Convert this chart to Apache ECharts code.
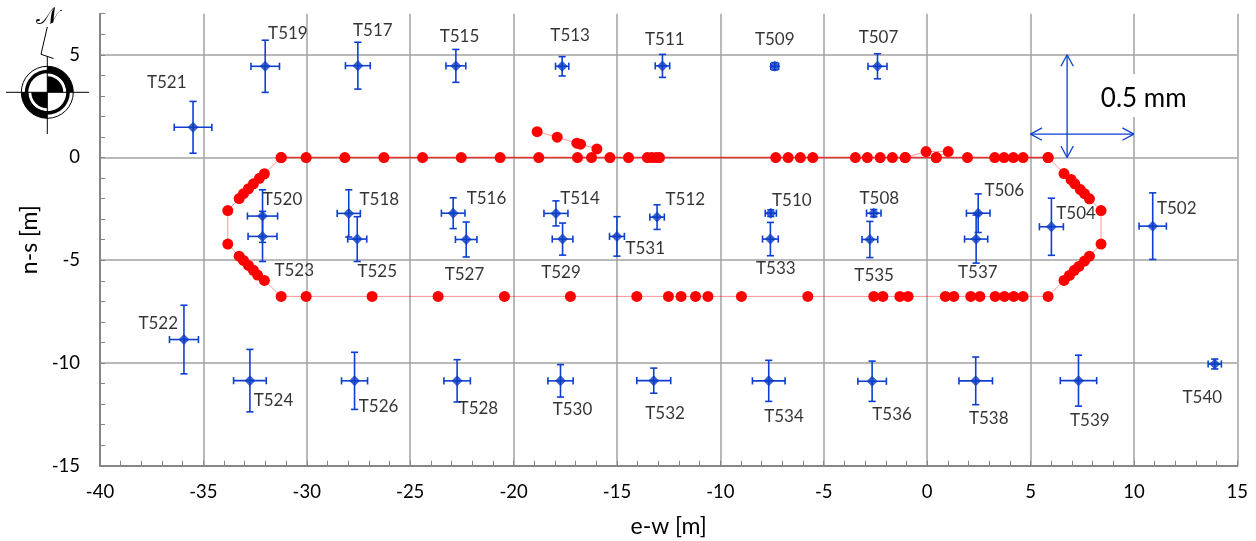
<!DOCTYPE html>
<html><head><meta charset="utf-8">
<style>html,body{margin:0;padding:0;background:#fff}#c{width:1256px;height:541px}</style>
<script src="https://cdn.jsdelivr.net/npm/echarts@6/dist/echarts.min.js"></script>
</head><body><div id="c"></div>
<script>
const targetNames = ['T521','T519','T517','T515','T513','T511','T509','T507','T520','T518','T516','T514','T512','T510','T508','T506','T504','T502','T523','T525','T527','T529','T531','T533','T535','T537','T522','T524','T526','T528','T530','T532','T534','T536','T538','T539','T540'];
const targetX = [-35.5,-32.01,-27.53,-22.79,-17.65,-12.8,-7.37,-2.4,-32.14,-27.97,-22.92,-17.95,-13.06,-7.56,-2.58,2.47,6.01,10.91,-32.14,-27.56,-22.29,-17.63,-15.0,-7.58,-2.77,2.37,-35.94,-32.75,-27.69,-22.73,-17.73,-13.22,-7.66,-2.66,2.35,7.32,13.91];
const targetY = [1.47,4.44,4.47,4.46,4.44,4.46,4.44,4.44,-2.85,-2.72,-2.71,-2.72,-2.9,-2.71,-2.71,-2.71,-3.37,-3.34,-3.84,-3.97,-3.99,-3.97,-3.84,-3.97,-3.99,-3.97,-8.86,-10.86,-10.87,-10.87,-10.87,-10.86,-10.87,-10.89,-10.87,-10.86,-10.05];
const errorX = [0.91,0.69,0.6,0.48,0.32,0.35,0.19,0.46,0.73,0.56,0.57,0.58,0.35,0.27,0.35,0.57,0.58,0.66,0.7,0.46,0.52,0.5,0.36,0.38,0.38,0.56,0.7,0.79,0.63,0.64,0.61,0.82,0.79,0.69,0.81,0.88,0.32];
const errorY = [1.26,1.27,1.14,0.8,0.47,0.56,0.18,0.61,1.28,1.15,0.75,0.61,0.6,0.16,0.18,0.94,1.39,1.62,1.22,1.09,0.85,0.78,0.96,0.81,0.88,1.17,1.67,1.52,1.39,1.03,0.79,0.61,1.0,0.98,1.16,1.24,0.24];

// Top row of measured points (y = 0)
const topRowX = [-31.24,-30.03,-28.16,-26.27,-24.4,-22.53,-20.65,-18.78,-16.91,-16.23,-15.34,-14.44,-13.53,-13.32,-13.1,-12.94,-7.32,-6.72,-6.13,-5.53,-3.47,-2.89,-2.27,-1.68,-1.06,0.44,1.95,3.27,3.72,4.17,4.64,5.85];
const topRowY = [0,0,0,0,0,0,0,0,0,0,0,0,0,0,0,0,0,0,0,0,0,0,0,0,0,0,0,0,0,0,0,0];
// Remainder of the closed outline: east bend, bottom row, west bend
const outlineX = [5.85,6.62,6.96,7.14,7.41,7.61,7.85,8.41,8.41,7.85,7.61,7.34,7.12,6.88,6.62,5.85,4.64,4.19,3.74,3.29,2.55,2.11,1.29,0.88,-0.92,-1.32,-2.14,-2.58,-5.77,-8.98,-10.6,-11.2,-11.9,-12.51,-14.04,-17.25,-20.44,-23.65,-26.84,-30.03,-31.24,-32.05,-32.38,-32.58,-32.82,-33.06,-33.27,-33.82,-33.82,-33.27,-33.06,-32.82,-32.58,-32.29,-32.05,-31.24];
const outlineY = [0,-0.78,-1.07,-1.28,-1.56,-1.76,-2.01,-2.58,-4.21,-4.8,-5.04,-5.3,-5.49,-5.74,-5.98,-6.76,-6.76,-6.76,-6.76,-6.76,-6.76,-6.76,-6.76,-6.76,-6.76,-6.76,-6.76,-6.76,-6.76,-6.76,-6.76,-6.76,-6.76,-6.76,-6.76,-6.76,-6.76,-6.76,-6.76,-6.76,-6.76,-5.98,-5.72,-5.49,-5.25,-5.01,-4.8,-4.21,-2.58,-2.0,-1.76,-1.52,-1.28,-1.01,-0.79,0];
const branchWestX = [-18.86,-17.89,-16.94,-16.76,-15.97];
const branchWestY = [1.26,0.99,0.7,0.65,0.42];
const branchEastX = [-1.06,-0.05,1.02,0.44];
const branchEastY = [0,0.29,0.29,0];

const scaleHorizontal = [5,1.14,10,1.14];
const scaleVertical = [6.77,5,6.77,0];

const xTickMin = -40, xTickMax = 15, yTickMin = -15, yTickMax = 7;

// Layout: label centre offsets from each target, in pixels
const labelDx = [-26.3,22.7,15,3.6,8,2.4,0,1,20,30.6,33.3,24,28.3,21,5.6,26,24.7,24,31.7,20,-1.7,-1.6,28.3,5.4,4.3,1.7,-25.7,23.6,24,21.3,12,11.3,15.3,20,13,11.4,-12.4];
const labelDy = [-44.4,-32.4,-34.7,-29.3,-30.7,-26.3,-26.7,-28.7,-16.4,-14,-14.4,-14.7,-17.7,-12.4,-14.4,-22.7,-13,-17.7,34.3,32.3,35,33.6,12.3,29.6,36.3,33.6,-16,20,25.6,27.3,28.3,32.7,35.3,33,37.3,39.7,33.3];

const FONT = 'Lato, "Open Sans", sans-serif';
const AXIS = '#868686', GRID = '#a2a2a2', BLUE = '#0e3fd2', RED = '#ff0000';
const zip = (a, b) => a.map((v, i) => [v, b[i]]);

function redLine(xs, ys, z, op, w) {
  return { type:'line', data:zip(xs,ys), symbol:'circle', symbolSize:11, z, animation:false, silent:true,
    itemStyle:{color:RED, opacity:1}, lineStyle:{color:RED, width:w || 1, opacity:op}, clip:false };
}
function seg(a, b, w) {
  return { type:'line', shape:{x1:a[0],y1:a[1],x2:b[0],y2:b[1]}, style:{stroke:BLUE, lineWidth:w, fill:null} };
}
function errRender(params, api) {
  const x = api.value(0), y = api.value(1), ex = api.value(2), ey = api.value(3);
  const L = api.coord([x-ex,y]), R = api.coord([x+ex,y]), T = api.coord([x,y+ey]), B = api.coord([x,y-ey]);
  const c = 3.6, w = 1.6;
  return { type:'group', children:[
    seg(L,R,w), seg(T,B,w),
    seg([L[0],L[1]-c],[L[0],L[1]+c],w), seg([R[0],R[1]-c],[R[0],R[1]+c],w),
    seg([T[0]-c,T[1]],[T[0]+c,T[1]],w), seg([B[0]-c,B[1]],[B[0]+c,B[1]],w)
  ]};
}
function arrowRender(params, api) {
  const a = api.coord([api.value(0),api.value(1)]), b = api.coord([api.value(2),api.value(3)]);
  const dx = b[0]-a[0], dy = b[1]-a[1], n = Math.hypot(dx,dy), ux = dx/n, uy = dy/n;
  const head = (p, s) => {
    const bx = p[0]-s*ux*11.5, by = p[1]-s*uy*11.5;
    return [ seg(p,[bx-uy*6.2,by+ux*6.2],1.3), seg(p,[bx+uy*6.2,by-ux*6.2],1.3) ];
  };
  return { type:'group', children:[seg(a,b,1.3)].concat(head(a,-1), head(b,1)) };
}

const cx = 47.3, cy = 92.3;
const sector = (r0, r, a0, a1) => ({ type:'sector', shape:{cx,cy,r0,r,startAngle:a0,endAngle:a1}, style:{fill:'#000'} });
const PI = Math.PI;
const ink = (pts) => ({ type:'polyline', shape:{points:pts}, style:{stroke:'#000', lineWidth:1, fill:null} });
const compass = [
  { type:'circle', shape:{cx,cy,r:26}, style:{fill:'#fff', stroke:'#000', lineWidth:1} },
  sector(19,26,-PI/2,0), sector(19,26,PI/2,PI),
  { type:'ring', shape:{cx,cy,r:22.5,r0:19}, style:{fill:'#000'} },
  sector(0,16,-PI/2,0), sector(0,16,PI/2,PI),
  ink([[6,cy],[89,cy]]),
  ink([[cx,56],[cx,134]]),
  ink([[cx,27],[41,54.3],[53.5,58.5]]),
  { type:'text', x:47, y:17.5, style:{ text:'𝒩', fontFamily:'"DejaVu Serif","DejaVu Sans","Liberation Serif",serif', fontSize:24, fill:'#000', align:'center', verticalAlign:'middle' } }
];

const chart = echarts.init(document.getElementById('c'), null, {renderer:'canvas'});
chart.setOption({
  animation:false,
  backgroundColor:'#fff',
  grid:{ left:100, top:13.7, width:1137.3, height:452, containLabel:false, outerBoundsMode:'none' },
  xAxis:{
    type:'value', min:xTickMin, max:xTickMax, interval:5,
    name:'e-w [m]', nameLocation:'middle', nameGap:49,
    nameTextStyle:{ fontFamily:FONT, fontSize:23, color:'#000' },
    axisLine:{ onZero:false, lineStyle:{color:AXIS, width:2} },
    axisTick:{ show:true, inside:true, length:5, lineStyle:{color:AXIS, width:1} },
    minorTick:{ show:true, splitNumber:5, length:5, lineStyle:{color:AXIS, width:1} },
    splitLine:{ show:true, lineStyle:{color:GRID, width:1.5} },
    axisLabel:{ fontFamily:FONT, fontSize:18.5, color:'#000', margin:17 }
  },
  yAxis:[{
    type:'value', min:yTickMin, max:yTickMax, interval:5,
    name:'n-s [m]', nameLocation:'middle', nameGap:58, nameRotate:90,
    nameTextStyle:{ fontFamily:FONT, fontSize:23, color:'#000' },
    axisLine:{ onZero:false, lineStyle:{color:AXIS, width:2} },
    axisTick:{ show:false },
    splitLine:{ show:true, showMaxLine:false, lineStyle:{color:GRID, width:1.5} },
    axisLabel:{ fontFamily:FONT, fontSize:18.5, color:'#000', margin:20, showMaxLabel:false }
  },{
    type:'value', min:yTickMin, max:yTickMax, interval:1, position:'left',
    axisLine:{ show:false, onZero:false }, axisLabel:{ show:false }, splitLine:{ show:false },
    axisTick:{ show:true, inside:true, length:5, lineStyle:{color:AXIS, width:1} }
  }],
  graphic:[
    { type:'rect', z:1, shape:{x:1126,y:74,width:16,height:43}, style:{fill:'#fff'} },
    { type:'text', z:5, x:1143.7, y:98.7, style:{ text:'0.5 mm', fontFamily:FONT, fontSize:26, fill:'#000', align:'center', verticalAlign:'middle' } },
    { type:'group', z:5, children:compass }
  ],
  series:[
    redLine(topRowX, topRowY, 3, 0.75, 1.5),
    redLine(outlineX, outlineY, 3, 0.42),
    redLine(branchWestX, branchWestY, 3, 0.42),
    redLine(branchEastX, branchEastY, 3, 0.42),
    { type:'custom', z:4, silent:true, clip:false, renderItem:errRender, encode:{x:0,y:1},
      data:targetX.map((x,i)=>[x,targetY[i],errorX[i],errorY[i]]) },
    { type:'scatter', z:5, silent:true, symbol:'diamond', symbolSize:11,
      itemStyle:{color:'#0a3cc4'},
      data:targetNames.map((name,i)=>({ name, value:[targetX[i],targetY[i]],
        label:{ show:true, formatter:name, position:'inside', offset:[labelDx[i],labelDy[i]],
          fontFamily:FONT, fontSize:17, color:'#000', align:'center', verticalAlign:'middle' } })) },
    { type:'custom', z:4, silent:true, clip:false, renderItem:arrowRender, encode:{x:[0,2],y:[1,3]},
      data:[scaleHorizontal, scaleVertical] }
  ]
});
</script></body></html>
